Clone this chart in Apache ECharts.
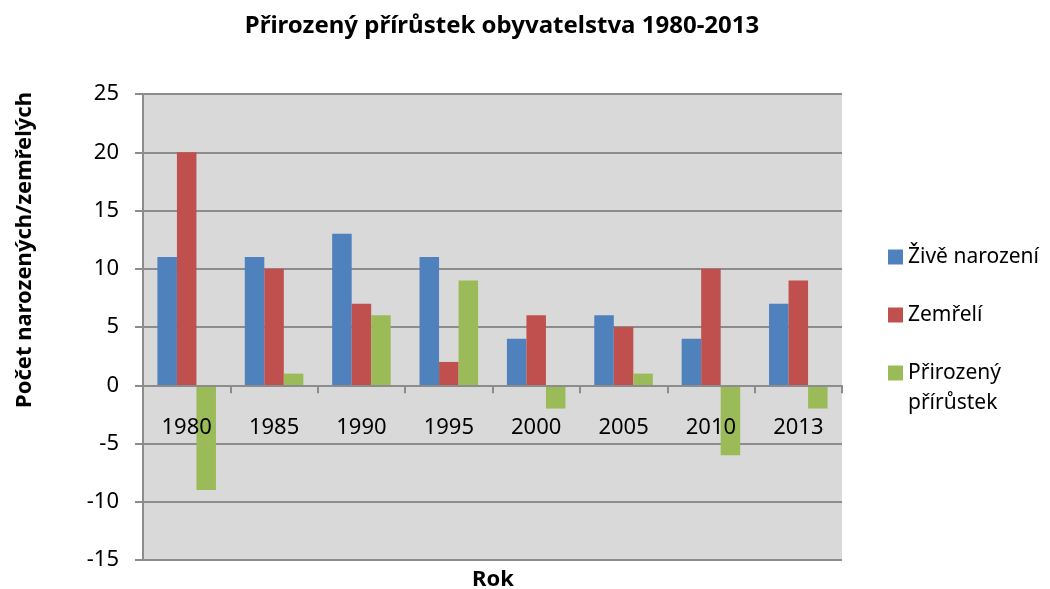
<!DOCTYPE html>
<html lang="cs" style="height: 100%">
<head>
  <meta charset="utf-8">
</head>
<body style="height: 100%; margin: 0; background: #fff">
  <div id="container" style="width: 1050px; height: 589px"></div>
  <script src="https://cdn.jsdelivr.net/npm/echarts@6/dist/echarts.min.js"></script>
  <script>
    var years = ['1980', '1985', '1990', '1995', '2000', '2005', '2010', '2013'];
    var born = [11, 11, 13, 11, 4, 6, 4, 7];
    var died = [20, 10, 7, 2, 6, 5, 10, 9];
    var growth = [-9, 1, 6, 9, -2, 1, -6, -2];
    var yTicks = { min: -15, max: 25, interval: 5 };

    var font = '"Noto Sans", "DejaVu Sans", sans-serif';
    var chart = echarts.init(document.getElementById('container'), null, { renderer: 'canvas' });

    var option = {
      animation: false,
      textStyle: { fontFamily: font },
      title: {
        text: 'Přirozený přírůstek obyvatelstva 1980-2013',
        left: 497, top: 9, textAlign: 'center',
        textStyle: { fontSize: 24, fontWeight: 'bold', color: '#000', fontFamily: font }
      },
      graphic: [{
        type: 'text', x: 25, y: 250, rotation: Math.PI / 2,
        style: {
          text: 'Počet narozených/zemřelých', fill: '#000',
          font: 'bold 22px ' + font, textAlign: 'center', textVerticalAlign: 'middle'
        }
      }, {
        type: 'text', x: 493, y: 580,
        style: {
          text: 'Rok', fill: '#000',
          font: 'bold 22px ' + font, textAlign: 'center', textVerticalAlign: 'middle'
        }
      }],
      legend: [{
        orient: 'vertical',
        left: 883, top: 237,
        itemWidth: 15, itemHeight: 15,
        itemGap: 28,
        icon: 'rect',
        data: ['Živě narození', 'Zemřelí'],
        textStyle: { fontSize: 21, color: '#000', fontFamily: font, lineHeight: 30 }
      }, {
        orient: 'vertical',
        left: 883, top: 323,
        itemWidth: 15, itemHeight: 15,
        icon: 'rect',
        data: ['Přirozený přírůstek'],
        // empty first line keeps the square level with "Přirozený"
        formatter: function () { return ' \nPřirozený\npřírůstek'; },
        textStyle: { fontSize: 21, color: '#000', fontFamily: font, lineHeight: 30 }
      }],
      grid: {
        left: 143, right: 208, top: 94, bottom: 29,
        outerBoundsMode: 'none',
        show: true, backgroundColor: '#d9d9d9', borderWidth: 0
      },
      xAxis: {
        type: 'category',
        data: years,
        z: 10,
        axisLine: { onZero: true, lineStyle: { color: '#8c8c8c', width: 2 } },
        axisTick: { show: true, length: 8, lineStyle: { color: '#8c8c8c', width: 2 } },
        // v6 keeps labels at the grid edge; pull them up under the zero line
        axisLabel: { show: true, interval: 0, fontSize: 22, color: '#000', margin: -143, fontFamily: font }
      },
      yAxis: {
        type: 'value',
        min: yTicks.min, max: yTicks.max, interval: yTicks.interval,
        axisLine: { show: true, lineStyle: { color: '#8c8c8c', width: 2 } },
        axisTick: { show: true, length: 8, lineStyle: { color: '#8c8c8c', width: 2 } },
        axisLabel: { fontSize: 22, color: '#000', margin: 24, fontFamily: font },
        splitLine: { show: true, lineStyle: { color: '#8c8c8c', width: 2 } }
      },
      series: [
        { name: 'Živě narození', type: 'bar', data: born, itemStyle: { color: '#4f81bd' }, barGap: '0%', barCategoryGap: '33%' },
        { name: 'Zemřelí', type: 'bar', data: died, itemStyle: { color: '#c0504d' } },
        { name: 'Přirozený přírůstek', type: 'bar', data: growth, itemStyle: { color: '#9bbb59' } }
      ]
    };

    chart.setOption(option);
    window.addEventListener('resize', chart.resize);
  </script>
</body>
</html>
